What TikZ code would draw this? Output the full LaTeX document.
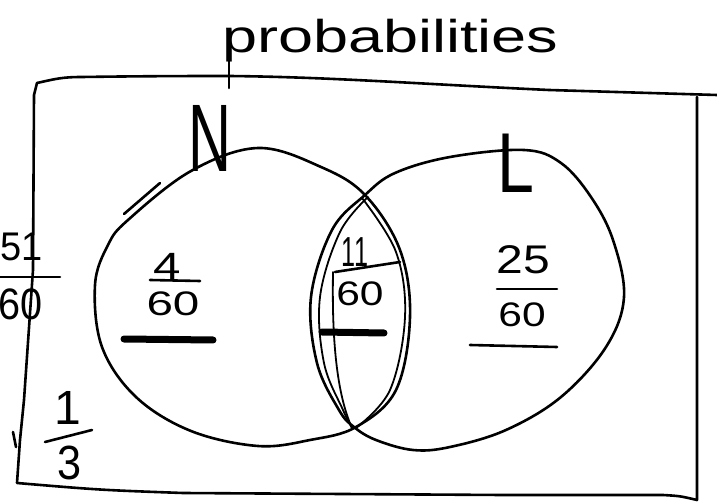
\documentclass[tikz,border=0pt]{standalone}
\usepackage{fontspec}
\usepackage{graphicx}
\setmainfont{Liberation Sans}
\newcommand\hwtxt[3]{{\fontsize{#1}{#1}\selectfont\scalebox{#2}[1]{#3}}}
\begin{document}
\begin{tikzpicture}[x=1pt,y=-1pt,
  ink/.style={line width=2.6pt, line cap=round, line join=round},
  thinink/.style={line width=1.8pt, line cap=round, line join=round},
  heavyink/.style={line width=7pt, line cap=round},
  txt/.style={inner sep=0pt, outer sep=0pt},
]
\fill[white] (0,0) rectangle (717,502);
\useasboundingbox (0,0) rectangle (717,502);

% title
\node[txt, anchor=base west] (title) at (222,53) {\hwtxt{46}{1.37}{probabilities}};
\draw[ink] (229,60) -- (229,88);

% frame
\draw[ink] (37,83) .. controls (55,79) and (62,77) .. (82,77)
  .. controls (150,76) and (200,76) .. (229,76)
  .. controls (330,77) and (420,84) .. (549,90) -- (717,95);
\draw[ink] (37,83) -- (34,95) -- (33,270) -- (24,400) -- (20,440) -- (17,483)
  .. controls (100,490) .. (183,493) -- (503,495) -- (663,495)
  .. controls (680,496) .. (697,500) -- (697,97);
\draw[ink] (13,432) -- (16,447);

% circles
\draw[ink] plot[smooth cycle, tension=0.6] coordinates {
  (258,148) (321,167) (365,195) (400,250) (410,317) (396,390) (356,427)
  (310,440) (258,446) (191,431) (136,397) (102,347) (95,285) (108,245)
  (128,220) (191,171)};
\draw[ink] plot[smooth cycle, tension=0.6] coordinates {
  (524,150) (561,163) (591,197) (613,240) (624,297) (606,347) (561,397)
  (506,430) (450,447) (413,450) (376,440) (354,427) (339,410) (317,363)
  (311,297) (332,230) (365,195) (395,173) (450,157)};

% lens over-strokes
\draw[thinink] plot[smooth, tension=0.6] coordinates {
  (368,197) (340,232) (320,297) (324,363) (343,410) (352,428)};
\draw[thinink] plot[smooth, tension=0.6] coordinates {
  (362,198) (396,252) (405,317) (390,390) (356,428)};
\draw[thinink] (333,272) .. controls (332,330) and (335,390) .. (352,428);
\draw[ink] (124,214) -- (160,183);

% set labels
\node[txt] (N) at (210,138) {\hwtxt{96}{0.62}{N}};
\node[txt] (L) at (516,163) {\hwtxt{85}{0.78}{L}};

% N only
\node[txt] (a1) at (167,266) {\hwtxt{38}{1.3}{4}};
\draw[ink] (150,280) -- (200,281);
\node[txt] (a2) at (173,304) {\hwtxt{34}{1.4}{60}};
\draw[heavyink] (124,339) -- (213,340);

% intersection
\node[txt] (b1) at (355,252) {\hwtxt{42}{0.6}{11}};
\draw[ink] (335,272) -- (400,262);
\node[txt] (b2) at (360,294) {\hwtxt{34}{1.25}{60}};
\draw[heavyink] (322,332) -- (384,333);

% L only
\node[txt] (c1) at (523,260) {\hwtxt{40}{1.2}{25}};
\draw[ink] (497,289) -- (557,289);
\node[txt] (c2) at (522,315) {\hwtxt{34}{1.25}{60}};
\draw[ink] (470,345) -- (557,347);

% left 51/60
\node[txt] (d1) at (22,247) {\hwtxt{40}{0.95}{51}};
\draw[ink] (0,277) -- (60,277);
\node[txt] (d2) at (21,304) {\hwtxt{44}{0.9}{60}};

% 1/3
\node[txt] (e1) at (68,408) {\hwtxt{48}{1}{1}};
\draw[ink] (45,442) -- (92,430);
\node[txt] (e2) at (70,463) {\hwtxt{48}{0.9}{3}};
\end{tikzpicture}
\end{document}
